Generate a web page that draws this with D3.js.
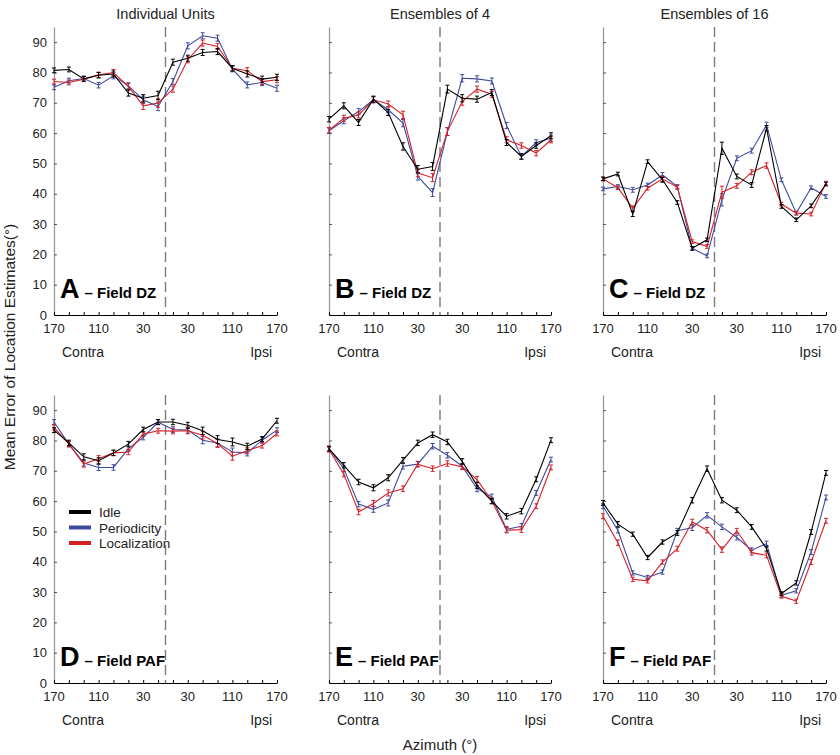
<!DOCTYPE html>
<html><head><meta charset="utf-8">
<script src="https://cdn.jsdelivr.net/npm/d3@7"></script>
<style>
body{margin:0;background:#fff;}
text{font-family:"Liberation Sans",Arial,Helvetica,sans-serif;}
</style></head>
<body>
<svg id="chart" width="840" height="755"></svg>
<script>
// ---- data ----
const azimuths = [-170,-150,-130,-110,-80,-50,-30,-10,10,30,50,80,110,130,150,170];
const tickAzimuths = [-170,-110,-30,30,110,170];
const tickLabels = ["170","110","30","30","110","170"];
const yTicks = [0,10,20,30,40,50,60,70,80,90];
const seriesNames = ["Idle","Periodicity","Localization"];
const columnTitles = ["Individual Units","Ensembles of 4","Ensembles of 16"];
const panelLetters = ["A","B","C","D","E","F"];
const panelFields = ["– Field DZ","– Field DZ","– Field DZ","– Field PAF","– Field PAF","– Field PAF"];

const A_idle = [80.7,81.0,77.9,79.1,79.5,73.2,71.5,72.4,83.4,84.7,86.6,86.9,81.4,79.5,77.8,78.4];
const A_per  = [75.1,77.3,78.0,75.8,78.9,75.6,71.0,68.8,77.0,88.8,92.1,91.3,81.1,75.9,76.7,74.8];
const A_loc  = [77.0,76.7,77.8,79.2,80.0,75.4,69.0,69.9,74.5,84.2,89.7,88.6,81.4,80.6,77.0,77.6];
const A_err  = [0.8,0.8,0.8,0.9,1.0,1.0,1.2,1.4,1.0,1.0,1.0,1.0,0.9,1.0,1.0,1.0];

const B_idle = [64.6,69.0,63.5,71.2,66.8,55.6,48.1,49.0,74.5,71.5,71.2,73.4,56.9,52.3,55.9,59.1];
const B_per  = [60.8,64.1,67.1,71.0,67.7,63.3,45.7,40.4,60.5,78.1,77.9,77.2,62.5,52.3,56.9,58.3];
const B_loc  = [61.0,64.9,66.0,71.0,69.6,66.0,46.8,45.3,60.5,70.4,74.5,72.8,57.8,55.9,53.4,57.8];
const B_err  = [0.9,1.0,1.0,1.0,1.0,1.2,1.2,1.3,1.3,1.2,1.0,1.0,1.0,0.9,0.9,1.0];

const C_idle = [44.9,46.5,33.3,50.6,44.6,37.1,22.0,24.8,55.0,45.7,42.9,61.6,35.8,31.4,36.0,43.2];
const C_per  = [41.6,42.4,41.3,42.9,46.2,42.4,22.0,19.5,38.0,51.7,54.2,62.7,44.6,33.6,42.0,39.1];
const C_loc  = [44.9,42.0,35.2,41.8,44.9,42.1,24.2,22.6,40.5,42.6,47.1,49.3,36.6,33.6,33.3,43.5];
const C_err  = [0.6,0.6,0.8,0.6,0.8,0.6,0.6,0.6,2.0,0.8,0.8,0.9,0.6,0.6,0.6,0.6];

const D_idle = [83.4,79.2,74.6,73.3,75.9,78.8,83.6,86.1,86.1,85.0,83.2,80.3,79.5,78.1,80.5,86.5];
const D_per  = [86.1,78.8,72.6,71.1,71.1,77.3,81.0,86.0,83.6,83.4,80.1,79.2,76.2,75.9,80.1,83.4];
const D_loc  = [84.3,78.8,72.2,74.0,75.9,76.2,82.1,83.2,83.1,83.2,81.7,79.0,74.8,76.6,78.3,82.3];
const D_err  = [0.8,0.9,1.0,1.0,0.9,0.9,0.8,0.8,0.9,1.0,1.2,1.3,1.3,1.0,0.8,0.8];

const E_idle = [77.3,71.8,66.3,64.4,67.7,73.5,79.2,81.9,79.5,73.1,65.2,60.0,55.0,56.7,67.2,80.1];
const E_per  = [77.3,70.7,59.0,57.3,59.4,71.5,72.2,78.1,75.1,71.5,64.1,61.4,50.7,51.7,62.7,73.7];
const E_loc  = [77.0,68.9,56.4,59.2,62.7,64.1,72.2,70.7,72.4,71.3,67.1,60.1,50.4,50.6,58.3,71.1];
const E_err  = [0.8,0.9,0.9,1.0,1.0,0.9,0.9,0.9,0.9,0.9,1.0,0.9,0.9,0.9,0.8,0.8];

const F_idle = [59.4,52.4,49.1,41.4,46.5,49.5,60.3,70.7,60.3,57.0,51.5,44.3,29.5,33.0,49.8,69.3];
const F_per  = [58.3,50.4,36.3,34.8,36.6,50.2,51.2,55.3,51.5,48.0,43.8,46.0,28.9,30.4,43.2,61.2];
const F_loc  = [55.0,46.3,34.2,33.7,39.9,44.3,53.1,50.4,44.0,50.2,43.0,42.1,28.6,27.0,39.9,53.5];
const F_err  = [0.8,0.9,0.7,0.7,0.7,0.8,0.9,0.9,0.9,0.8,0.8,0.8,0.6,0.7,0.8,0.8];

const panelSeries = [
  [A_idle,A_per,A_loc,A_err],
  [B_idle,B_per,B_loc,B_err],
  [C_idle,C_per,C_loc,C_err],
  [D_idle,D_per,D_loc,D_err],
  [E_idle,E_per,E_loc,E_err],
  [F_idle,F_per,F_loc,F_err]
];

// ---- layout ----
const colors = ["#000000","#3e4b9d","#d51f26"];
const colX = [[54,277],[329,551],[603,826]];
const rowY = [[27,315],[395,683]];
const svg = d3.select("#chart");

panelSeries.forEach((ps, p) => {
  const col = p % 3, row = Math.floor(p / 3);
  const x = d3.scalePoint().domain(azimuths).range(colX[col]).padding(0);
  const y = d3.scaleLinear().domain([0,95]).range([rowY[row][1], rowY[row][0]]);
  const g = svg.append("g");

  // y axis
  const ya = d3.axisLeft(y).tickValues(yTicks).tickSizeInner(-3).tickSizeOuter(0).tickPadding(col===0?7:0)
     .tickFormat(col===0 ? d3.format("d") : "");
  const yg = g.append("g").attr("transform",`translate(${colX[col][0]},0)`).call(ya);
  yg.select(".domain").attr("stroke","#9a9a9a").attr("stroke-width",1.3);
  yg.selectAll(".tick line").attr("stroke","#555");
  yg.selectAll(".tick text").attr("font-size",13).attr("fill","#222")
     .attr("font-family","'Liberation Sans',Arial,sans-serif");

  // x axis
  const xa = d3.axisBottom(x).tickValues(azimuths).tickSizeInner(-3).tickSizeOuter(0).tickFormat("");
  const xg = g.append("g").attr("transform",`translate(0,${rowY[row][1]})`).call(xa);
  xg.select(".domain").attr("stroke","#000").attr("stroke-width",1.1);
  xg.selectAll(".tick line").attr("stroke","#000");
  tickAzimuths.forEach((a,i) => {
    g.append("text").attr("x",x(a)).attr("y",rowY[row][1]+18)
      .attr("text-anchor","middle").attr("font-size",13).attr("fill","#222").text(tickLabels[i]);
  });
  g.append("text").attr("x",colX[col][0]+8).attr("y",rowY[row][1]+42)
    .attr("font-size",14).attr("fill","#222").text("Contra");
  g.append("text").attr("x",colX[col][1]-5).attr("y",rowY[row][1]+42)
    .attr("text-anchor","end").attr("font-size",14).attr("fill","#222").text("Ipsi");

  // dashed midline
  const xm = (x(-10) + x(10)) / 2;
  g.append("line").attr("x1",xm).attr("x2",xm).attr("y1",y(95)).attr("y2",y(0))
    .attr("stroke","#7a7a7a").attr("stroke-width",1.4).attr("stroke-dasharray","10,5");

  // series: draw Periodicity, Localization, then Idle on top
  const err = ps[3];
  [1,2,0].forEach(s => {
    const vals = ps[s];
    const line = d3.line().x((d,i)=>x(azimuths[i])).y(d=>y(d));
    g.append("path").datum(vals).attr("d",line).attr("fill","none")
      .attr("stroke",colors[s]).attr("stroke-width",1.1);
    const eb = g.append("g").attr("stroke",colors[s]).attr("stroke-width",1);
    vals.forEach((v,i) => {
      const cx = x(azimuths[i]), e = err[i];
      eb.append("line").attr("x1",cx).attr("x2",cx).attr("y1",y(v-e)).attr("y2",y(v+e));
      eb.append("line").attr("x1",cx-2).attr("x2",cx+2).attr("y1",y(v-e)).attr("y2",y(v-e));
      eb.append("line").attr("x1",cx-2).attr("x2",cx+2).attr("y1",y(v+e)).attr("y2",y(v+e));
    });
  });

  // panel label
  const lab = g.append("text").attr("x",colX[col][0]+6).attr("y",rowY[row][1]-17).attr("fill","#000");
  lab.append("tspan").attr("font-size",27).attr("font-weight","bold").text(panelLetters[p]);
  lab.append("tspan").attr("font-size",15).attr("font-weight","bold").attr("dx",5).text(panelFields[p]);

  if (row === 0) {
    g.append("text").attr("x",(colX[col][0]+colX[col][1])/2).attr("y",19)
      .attr("text-anchor","middle").attr("font-size",14.5).attr("fill","#222").text(columnTitles[col]);
  }

  // legend in panel D
  if (p === 3) {
    seriesNames.forEach((n,i) => {
      const ly = 512 + i*15.5;
      g.append("line").attr("x1",69).attr("x2",91).attr("y1",ly).attr("y2",ly)
        .attr("stroke",colors[i]).attr("stroke-width",4);
      g.append("text").attr("x",99).attr("y",ly+5).attr("font-size",13.5).attr("fill","#222").text(n);
    });
  }
});

// axis titles
svg.append("text").attr("transform","translate(15,347) rotate(-90)")
  .attr("text-anchor","middle").attr("font-size",15.5).attr("fill","#222")
  .text("Mean Error of Location Estimates(°)");
svg.append("text").attr("x",440).attr("y",750).attr("text-anchor","middle")
  .attr("font-size",15).attr("fill","#222").text("Azimuth (°)");
</script>
</body></html>
